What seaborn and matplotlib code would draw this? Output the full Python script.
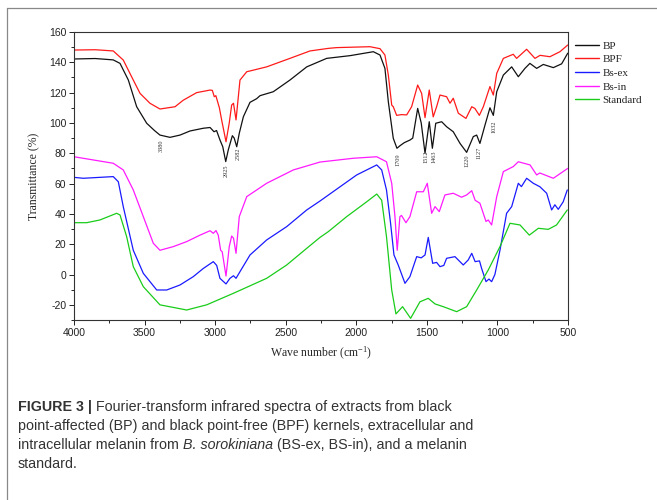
import numpy as np
import pandas as pd
import matplotlib
matplotlib.use('Agg')
import matplotlib.pyplot as plt
import seaborn as sns
from matplotlib.lines import Line2D
from matplotlib.ticker import MultipleLocator

# FTIR spectra, values (wavenumber cm-1, transmittance %)
bp_wn = [4000, 3850, 3722, 3674, 3615, 3556, 3485, 3430, 3391, 3320, 3249, 3178, 3084, 3036, 3008, 2990,
         2966, 2946, 2925, 2907, 2878, 2865, 2847, 2829, 2800, 2753, 2706, 2682, 2588, 2470, 2351, 2210,
         2044, 1879, 1832, 1797, 1773, 1738, 1712, 1690, 1660, 1620, 1600, 1565, 1540, 1513, 1483, 1461,
         1437, 1395, 1360, 1313, 1265, 1218, 1171, 1147, 1124, 1088, 1053, 1029, 1005, 958, 899, 852,
         805, 770, 722, 675, 604, 545, 502]
bp_val = [142.2, 142.5, 141.6, 139.3, 128.3, 110.7, 99.8, 95, 92, 90.5, 92, 94.7, 96.5, 97, 94.2, 95,
          88.8, 84.3, 74.5, 82.2, 91.6, 90, 84.3, 93.2, 104.1, 113.6, 116, 118, 120.6, 128.3, 137, 142.6,
          144.4, 147, 144.8, 136, 114, 89.9, 83.3, 85, 87, 88.7, 90, 109.6, 100, 80, 100.8, 83.3,
          99.8, 100.8, 97.5, 94.2, 86.5, 80.6, 91, 92, 86.5, 98.6, 110, 105, 120.6, 131.6, 137, 130.5,
          136, 139.3, 136, 138.6, 136.5, 139, 146]

bpf_wn = [4000, 3850, 3722, 3651, 3580, 3532, 3462, 3391, 3284, 3226, 3131, 3036, 3020, 3006, 2995,
          2970, 2954, 2923, 2900, 2883, 2870, 2852, 2824, 2776, 2753, 2635, 2470, 2328, 2198, 2139,
          1903, 1832, 1797, 1773, 1749, 1738, 1714, 1680, 1643, 1608, 1565, 1537, 1513, 1483, 1455,
          1431, 1407, 1360, 1336, 1313, 1277, 1223, 1182, 1160, 1128, 1100, 1053, 1029, 1005, 958,
          888, 864, 793, 734, 698, 628, 557, 502]
bpf_val = [148.1, 148.3, 147.5, 141.5, 128.3, 119.5, 113, 109.2, 110.7, 115, 120, 121.7, 121.5, 117.3, 118,
           110, 102, 87.6, 100, 111.8, 113, 102, 128.3, 133.8, 134.3, 137, 142.6, 147.5, 149.2, 149.7,
           150.3, 149, 144.8, 131.6, 111.8, 110.7, 105, 105.5, 105.3, 110.7, 125, 119.5, 103.5, 121.7, 104,
           110.7, 118.4, 117.3, 113, 116.3, 106.4, 103, 110.7, 109.6, 105, 110.7, 124, 118.4, 132.7, 142.6,
           145.3, 142.6, 148.6, 142.6, 144.6, 143.7, 147, 151.4]

bsex_wn = [4000, 3934, 3722, 3686, 3651, 3580, 3509, 3414, 3343, 3249, 3155, 3084, 3013, 2989, 2966,
           2923, 2895, 2870, 2852, 2824, 2753, 2635, 2493, 2351, 2257, 2115, 1997, 1855, 1820, 1786,
           1757, 1733, 1703, 1655, 1620, 1572, 1540, 1513, 1490, 1459, 1431, 1407, 1380, 1360, 1301,
           1242, 1207, 1182, 1158, 1127, 1112, 1081, 1060, 1041, 1018, 982, 935, 899, 852, 830, 793,
           746, 699, 651, 616, 593, 569, 534, 505]
bsex_val = [64.1, 63.5, 64.6, 61.2, 44.8, 16, 0.8, -10.2, -10.2, -6.9, -1.4, 4, 8.5, 6, -2.5,
            -6.2, -2.5, -0.8, -2.5, 1.9, 12.9, 22.8, 31.6, 42.6, 48.5, 57.9, 65.7, 72.3, 69, 55.8,
            33.8, 12.9, 6.3, -5.8, -1.4, 11.8, 11, 12.9, 24.5, 7.4, 8, 5.2, 6, 10.7, 11.8,
            6.3, 9.6, 14, 8.5, 9, 4, -4.7, -3, -4.7, 0, 16, 40.4, 44.8, 60.2, 58, 63.5,
            60.2, 57.9, 53.6, 42.6, 46, 43, 48, 55.8]

bsin_wn = [4000, 3722, 3651, 3580, 3509, 3438, 3391, 3297, 3202, 3107, 3036, 3013, 2994, 2978, 2961,
           2950, 2923, 2900, 2883, 2870, 2852, 2829, 2776, 2635, 2446, 2257, 2021, 1855, 1786, 1749,
           1726, 1710, 1691, 1680, 1648, 1620, 1572, 1525, 1497, 1466, 1442, 1412, 1372, 1313, 1254,
           1218, 1182, 1158, 1124, 1081, 1065, 1041, 1005, 958, 888, 852, 769, 722, 700, 604, 502]
bsin_val = [77.7, 73.4, 69, 55.8, 38.2, 20.6, 16, 18.4, 21.7, 26, 28.9, 27.2, 29, 26, 16,
            15, -1, 18.4, 25.4, 24, 14, 38.2, 51.4, 60.2, 69, 74.2, 76.7, 77.7, 74.4, 60.2,
            38.2, 16, 38.2, 39, 34.2, 38.2, 54.6, 54.6, 60.2, 40.4, 44.8, 41.5, 52.5, 53.6, 51,
            52.5, 55.3, 49, 47, 35, 36, 32.7, 51.4, 67.9, 71.2, 74.4, 72.3, 65.7, 67, 63.5, 70]

std_wn = [4000, 3910, 3816, 3698, 3674, 3627, 3580, 3509, 3391, 3202, 3060, 2871, 2635, 2493, 2351,
          2257, 2198, 2068, 1926, 1855, 1820, 1786, 1749, 1719, 1672, 1615, 1549, 1490, 1442, 1384,
          1289, 1218, 1147, 1065, 982, 911, 840, 774, 710, 640, 581, 505]
std_val = [34.2, 34.2, 36, 40.4, 39.3, 25, 5.2, -8, -20, -23.4, -20, -12.4, -2.5, 6.3, 17.3,
           24.5, 28.3, 38.2, 48, 53.1, 49, 25, -10.2, -26, -21.2, -28.9, -18, -15.7, -19.4, -21.2,
           -24.5, -21.2, -10.2, 3, 18.4, 33.8, 32.7, 26, 30.5, 29.8, 32.7, 42.6]

series_names = ['BP', 'BPF', 'Bs-ex', 'Bs-in', 'Standard']
series_colors = ['#111111', '#ff1a1a', '#1a1aff', '#ff1aff', '#1acc1a']

# peak labels on the BP spectrum
peak_labels = ['3380', '2925', '2582', '1709', '1512', '1463', '1220', '1127', '1032']
peak_wn = [3380, 2923, 2836, 1702, 1506, 1447, 1213, 1128, 1022]
peak_top = [89.4, 72.3, 84.0, 80.0, 81.5, 81.5, 79.3, 84.3, 101.3]

frames = []
for name, wn, val in zip(series_names,
                         [bp_wn, bpf_wn, bsex_wn, bsin_wn, std_wn],
                         [bp_val, bpf_val, bsex_val, bsin_val, std_val]):
    frames.append(pd.DataFrame({'wn': wn, 'T': val, 'sample': name}))
spectra = pd.concat(frames, ignore_index=True)

sns.set_style('ticks')
plt.rcParams['font.family'] = ['Liberation Sans', 'DejaVu Sans']
plt.rcParams['axes.unicode_minus'] = False
plt.rcParams['mathtext.fontset'] = 'stix'

fig = plt.figure(figsize=(6.57, 5.0), dpi=100)
ax = fig.add_axes([74 / 657, 1 - 320 / 500, 494 / 657, 288 / 500])

sns.lineplot(data=spectra, x='wn', y='T', hue='sample', hue_order=series_names,
             palette=series_colors, sort=False, estimator=None, lw=0.9, ax=ax)

ax.set_xlim(4000, 500)
ax.set_ylim(-30, 160)
ax.xaxis.set_major_locator(MultipleLocator(500))
ax.xaxis.set_minor_locator(MultipleLocator(250))
ax.yaxis.set_major_locator(MultipleLocator(20))
ax.yaxis.set_minor_locator(MultipleLocator(10))
ax.tick_params(which='major', length=3.5, width=0.7, labelsize=7.5, colors='#222222', pad=2)
ax.tick_params(which='minor', length=2.5, width=0.7)
ax.tick_params(top=False, right=False)
for sp in ax.spines.values():
    sp.set_visible(True)
    sp.set_linewidth(0.8)
    sp.set_color('#333333')

serif = ['Liberation Serif', 'DejaVu Serif']
ax.set_xlabel('Wave number (cm$^{\\mathregular{-1}}$)', family=serif, fontsize=8.5, labelpad=5)
ax.set_ylabel('Transmittance (%)', family=serif, fontsize=8.5, labelpad=6)

for lab, x, y in zip(peak_labels, peak_wn, peak_top):
    ax.text(x, y, lab, rotation=90, ha='center', va='top', fontsize=4.5,
            family=serif, color='#333333')

leg = ax.legend(loc='upper left', bbox_to_anchor=(1.005, 0.985), frameon=False,
                prop={'family': 'Liberation Serif', 'size': 8}, handlelength=2.2,
                handletextpad=0.3, labelspacing=0.35, borderaxespad=0)
for line in leg.get_lines():
    line.set_linewidth(1.0)

# panel frame
fig.add_artist(Line2D([7 / 657, 7 / 657], [0, 1 - 8 / 500], color='#888888', lw=0.9))
fig.add_artist(Line2D([7 / 657, 1], [1 - 8 / 500, 1 - 8 / 500], color='#888888', lw=0.9))

# caption
cap_size = 10.3
cap_color = '#333333'
renderer = fig.canvas.get_renderer()


def put_pieces(pieces, x0, y_px):
    x = x0
    for txt, kw in pieces:
        t = fig.text(x, 1 - y_px / 500, txt, fontsize=cap_size, color=cap_color,
                     va='baseline', ha='left', **kw)
        bb = t.get_window_extent(renderer)
        x = bb.x1 / fig.bbox.width


x0 = 18 / 657
put_pieces([('FIGURE 3 | ', {'weight': 'bold'}),
            ('Fourier-transform infrared spectra of extracts from black', {})], x0, 411)
put_pieces([('point-affected (BP) and black point-free (BPF) kernels, extracellular and', {})], x0, 430)
put_pieces([('intracellular melanin from ', {}), ('B. sorokiniana', {'style': 'italic'}),
            (' (BS-ex, BS-in), and a melanin', {})], x0, 449)
put_pieces([('standard.', {})], x0, 468)

fig.savefig('out.png', dpi=100)
